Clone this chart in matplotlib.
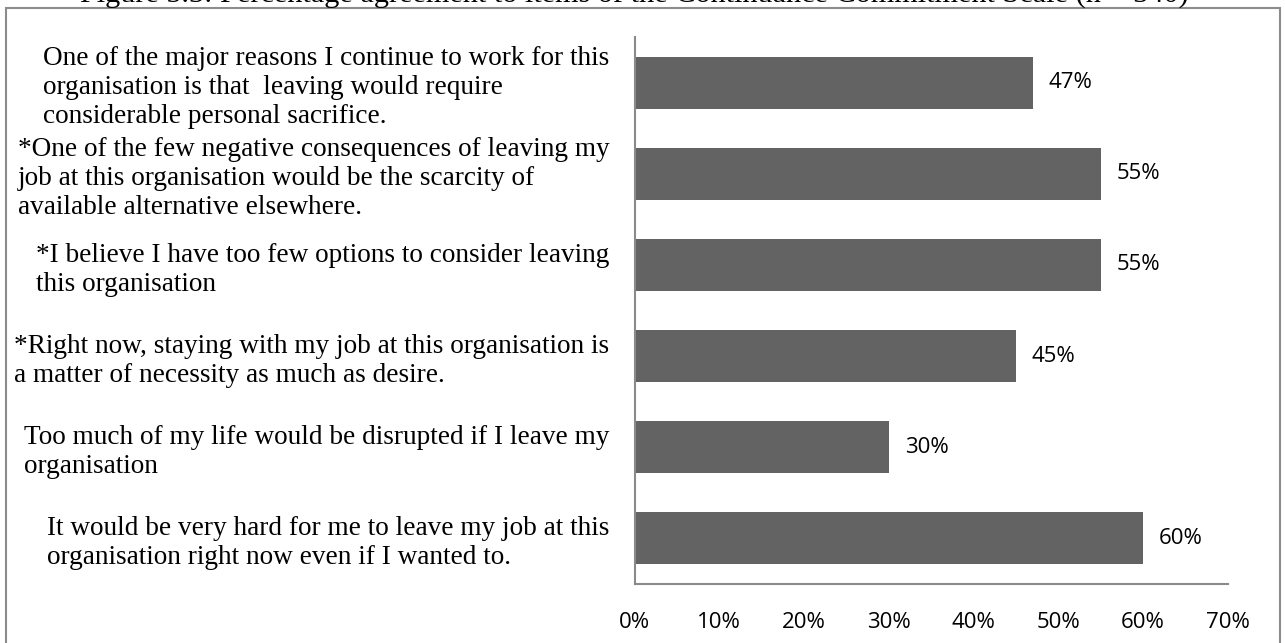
import matplotlib.pyplot as plt
from matplotlib.patches import Rectangle

# items of the scale, top to bottom
items = [
    "One of the major reasons I continue to work for this\norganisation is that  leaving would require\nconsiderable personal sacrifice.",
    "*One of the few negative consequences of leaving my\njob at this organisation would be the scarcity of\navailable alternative elsewhere.",
    "*I believe I have too few options to consider leaving\nthis organisation",
    "*Right now, staying with my job at this organisation is\na matter of necessity as much as desire.",
    "Too much of my life would be disrupted if I leave my\norganisation",
    "It would be very hard for me to leave my job at this\norganisation right now even if I wanted to.",
]
agree = [47, 55, 55, 45, 30, 60]
xticks = [0, 10, 20, 30, 40, 50, 60, 70]
title = "Figure 5.3: Percentage agreement to items of the Continuance Commitment Scale (n = 340)"

fig = plt.figure(figsize=(12.85, 6.43), dpi=100)
ax = fig.add_axes([0.4938, 0.0918, 0.4618, 0.8507])

bar_col = '#636363'
axis_col = '#8a8a8a'

ypos = list(range(len(items)))
ax.barh(ypos, agree, height=0.57, color=bar_col)
ax.set_ylim(len(items) - 0.5, -0.5)
ax.set_xlim(0, 70)

for y, v in zip(ypos, agree):
    ax.annotate(f"{v}%", (v, y), xytext=(11.5, 0), textcoords='offset points',
                va='center', ha='left', fontsize=16, family='Open Sans')

ax.set_xticks(xticks)
ax.set_xticklabels([f"{t}%" for t in xticks], family='Open Sans', fontsize=16)
ax.set_yticks(ypos)
ax.set_yticklabels(items, family='Liberation Serif', fontsize=19.6, linespacing=1.2)
for lbl in ax.get_yticklabels():
    lbl.set_multialignment('left')
ax.tick_params(axis='x', length=0, pad=20)
ax.tick_params(axis='y', length=0, pad=18)

for s in ['top', 'right']:
    ax.spines[s].set_visible(False)
for s in ['left', 'bottom']:
    ax.spines[s].set_color(axis_col)
    ax.spines[s].set_linewidth(1.5)

# outer chart frame
fig.patches.append(Rectangle((6 / 1285, -0.05), 1274 / 1285, 1.05 - 8 / 643,
                             transform=fig.transFigure, fill=False,
                             edgecolor='#8c8c8c', linewidth=1.5))

# caption sitting above the frame, mostly cropped
fig.text(0.494, 1 - 3 / 643, title, ha='center', va='baseline',
         family='Liberation Serif', fontsize=21.8)

fig.savefig('out.png', dpi=100)
